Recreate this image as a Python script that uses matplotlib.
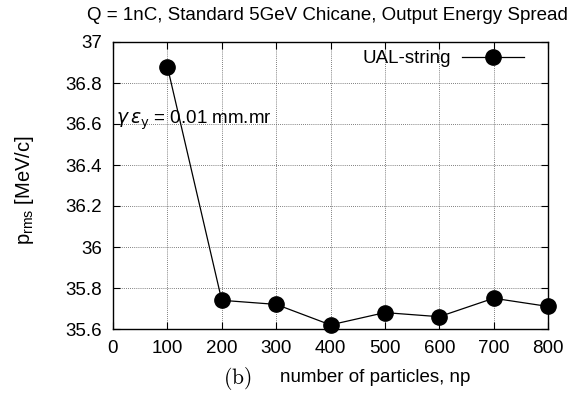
import matplotlib
matplotlib.use('Agg')
import matplotlib.pyplot as plt

plt.rcParams['font.family'] = ['Liberation Sans', 'DejaVu Sans']
plt.rcParams['mathtext.fontset'] = 'custom'
plt.rcParams['mathtext.rm'] = 'Liberation Sans'
plt.rcParams['mathtext.it'] = 'Liberation Sans:italic'

# 数据
n_particles = [100, 200, 300, 400, 500, 600, 700, 800]
p_rms = [36.88, 35.74, 35.72, 35.62, 35.68, 35.66, 35.75, 35.71]
x_ticks = [0, 100, 200, 300, 400, 500, 600, 700, 800]
y_ticks = [35.6, 35.8, 36.0, 36.2, 36.4, 36.6, 36.8, 37.0]
y_tick_labels = ['35.6', '35.8', '36', '36.2', '36.4', '36.6', '36.8', '37']

W, H = 579, 397
fig = plt.figure(figsize=(W / 100, H / 100), dpi=100)
ax = fig.add_axes([113 / W, 1 - 329 / H, 435 / W, 287 / H])

ax.plot(n_particles, p_rms, color='black', lw=0.9, marker='o', ms=11,
        mfc='black', mec='black', label='UAL-string', clip_on=False, zorder=3)

ax.set_xlim(0, 800)
ax.set_ylim(35.6, 37)
ax.set_xticks(x_ticks)
ax.set_yticks(y_ticks)
ax.set_yticklabels(y_tick_labels)
ax.tick_params(direction='in', length=5, width=0.8, top=True, right=True,
               labelsize=13.5, pad=8, colors='black')
ax.grid(True, ls=(0, (1, 1.5)), color='#555555', lw=0.6)
for s in ax.spines.values():
    s.set_linewidth(1.0)

# 标题和坐标轴标签
fig.text(327 / W, 1 - 20 / H, 'Q = 1nC, Standard 5GeV Chicane, Output Energy Spread',
         fontsize=13.5, ha='center', va='baseline')
fig.text(24 / W, 1 - 190 / H, r'p$_{\rm rms}$ [MeV/c]', fontsize=14.5,
         rotation=90, ha='center', va='center')
fig.text(237 / W, 1 - 378 / H, r'$(\mathrm{b})$', math_fontfamily='cm', fontsize=15.5,
         ha='center', va='center')
fig.text(280 / W, 1 - 382 / H, 'number of particles, np', fontsize=13.5,
         ha='left', va='baseline')

ax.text(5, 36.603, r'$\gamma\,\varepsilon_{\rm y}$ = 0.01 mm.mr', fontsize=13.5,
        ha='left', va='baseline', math_fontfamily='dejavusans')

leg = ax.legend(loc='upper right', bbox_to_anchor=(0.945, 0.972), frameon=False,
                fontsize=13.5, markerfirst=False, handlelength=3.3,
                borderaxespad=0, borderpad=0, handletextpad=0.6)

plt.savefig('out.png', dpi=100)
